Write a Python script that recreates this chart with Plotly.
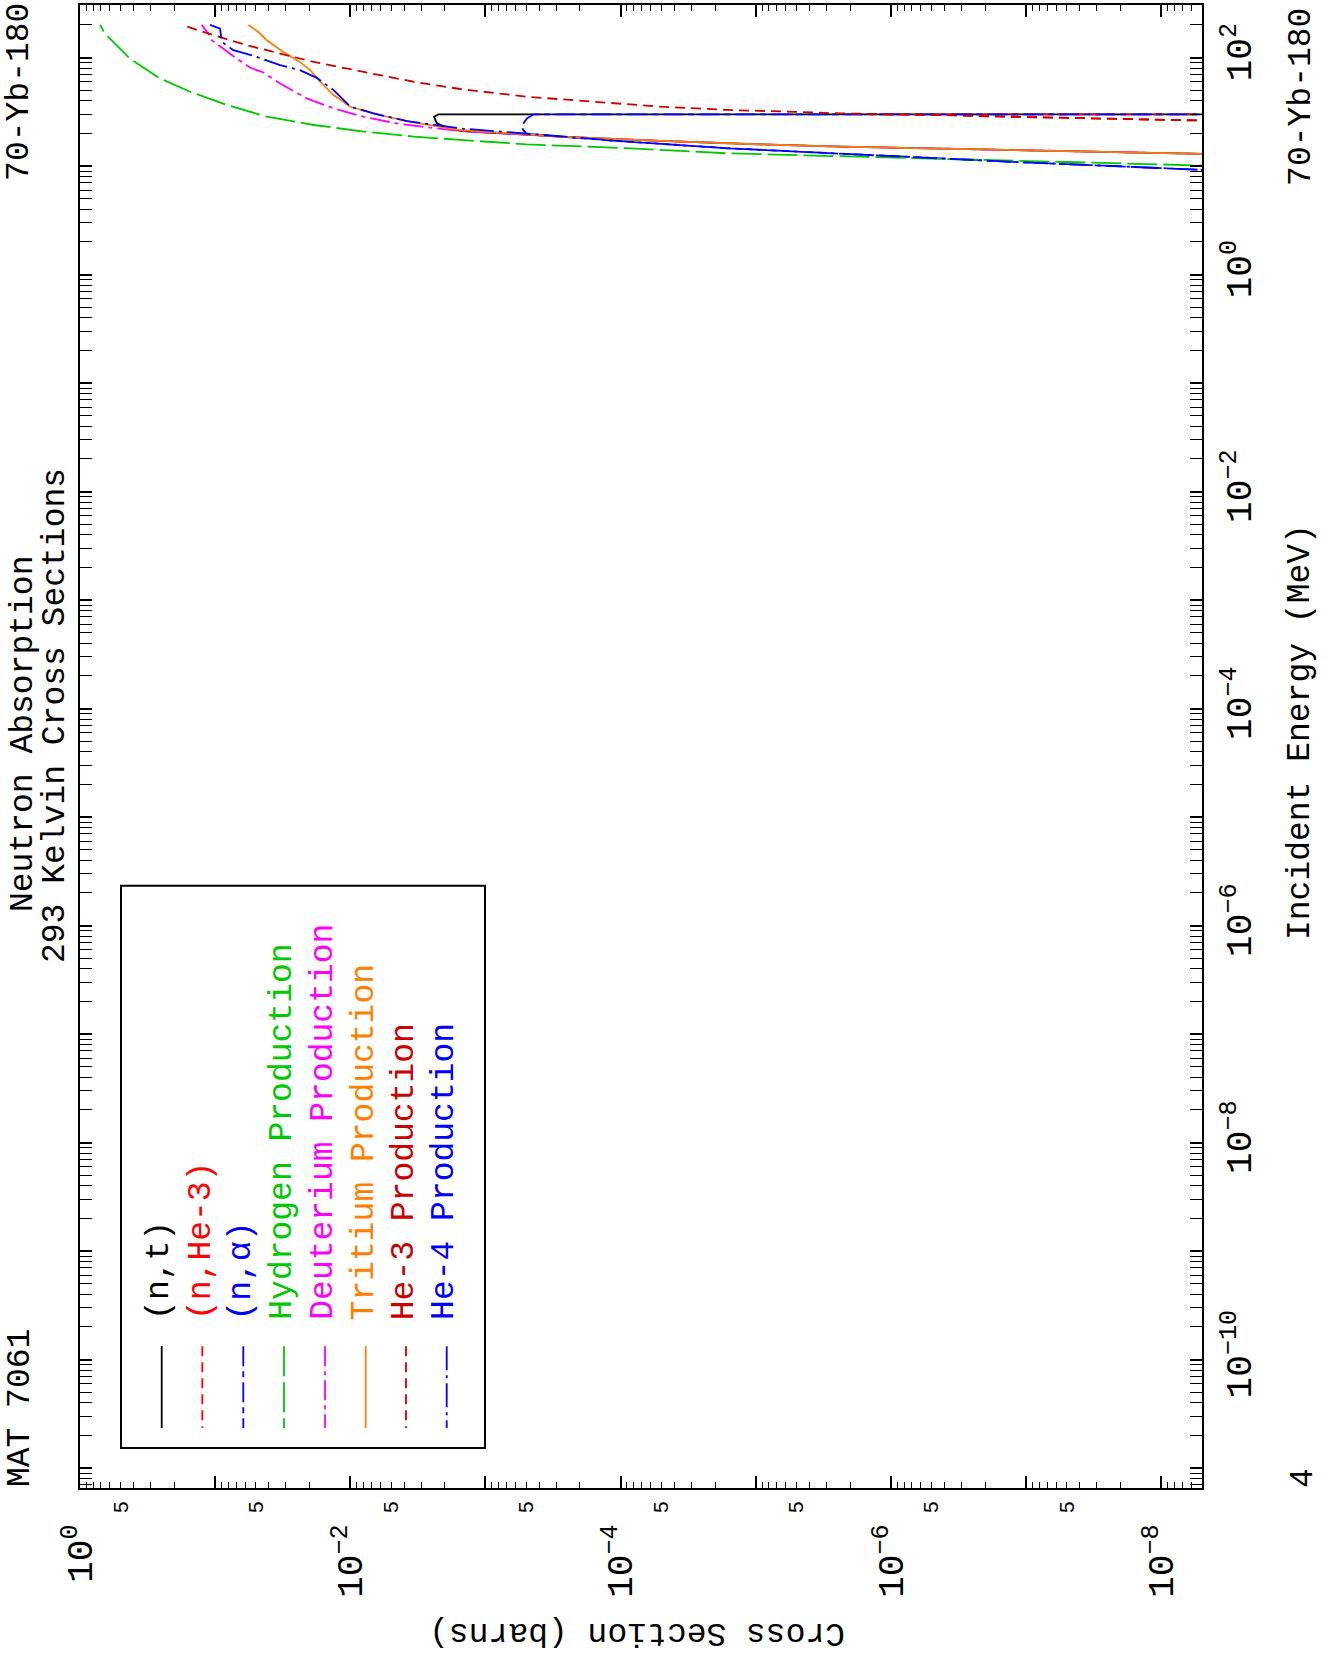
import math
import plotly.graph_objects as go

# ---------------- data: incident energy (MeV) and cross section (barns) ----------------
nt_E = [12.59, 12.94, 14.09, 15.10, 15.85, 17.06, 18.66, 21.04, 22.6, 24.7, 28.5, 30.0, 30.0]
nt_xs = [1.5e-9, 5.0e-9, 1.38e-7, 2.37e-6, 9.3e-6, 5.09e-5, 2.8e-4, 1.5e-3, 1.93e-3, 2.29e-3, 2.40e-3, 2.23e-3, 1e-12]

nhe3_E = [25.12, 26.18, 27.16, 28.51, 29.51, 30.0, 30.0]
nhe3_xs = [8.1e-10, 5.0e-9, 2.51e-8, 1.38e-7, 4.31e-7, 1.4e-6, 1e-12]

na_E = [8.91, 9.23, 10.99, 13.12, 14.59, 16.79, 19.77, 21.4, 23.1, 25.1, 27.5, 30.0, 30.0]
na_xs = [1.58e-9, 5.0e-9, 1.38e-7, 2.37e-6, 1.63e-5, 8.99e-5, 4.94e-4, 5.25e-4, 5.38e-4, 5.2e-4, 4.94e-4, 4.4e-4, 1e-12]

h_E = [9.77, 10.1, 11.17, 12.2, 13.1, 14.6, 15.85, 17.4, 18.7, 20.8, 23.9, 28.5, 36.5, 48.4, 64.1, 97.7, 166, 200]
h_xs = [1.7e-9, 5.0e-9, 1.38e-7, 2.37e-6, 1.63e-5, 8.98e-5, 4.94e-4, 1.54e-3, 3.41e-3, 8.0e-3, 1.87e-2, 4.15e-2, 8.2e-2, 0.153, 0.256, 0.427, 0.653, 0.711]

d_E = [12.59, 12.94, 14.09, 15.1, 15.85, 17.06, 18.66, 21.04, 22.6, 24.7, 28.5, 34.0, 42.0, 57.7, 72.8, 80.9, 97.7, 121, 144.5, 166, 200]
d_xs = [1.5e-9, 5.0e-9, 1.38e-7, 2.37e-6, 9.3e-6, 5.09e-5, 2.8e-4, 1.54e-3, 2.57e-3, 4.53e-3, 8.0e-3, 1.33e-2, 2.10e-2, 3.31e-2, 4.40e-2, 5.52e-2, 6.92e-2, 8.69e-2, 0.106, 0.112, 0.126]

t_E = [12.59, 12.94, 14.09, 15.1, 15.85, 17.06, 18.66, 21.5, 25.3, 29.5, 35.2, 45.1, 59.8, 76.6, 91.2, 112.7, 144.5, 172, 200]
t_xs = [1.5e-9, 5.0e-9, 1.38e-7, 2.37e-6, 9.3e-6, 5.09e-5, 2.8e-4, 1.54e-3, 3.41e-3, 6.03e-3, 1.0e-2, 1.33e-2, 1.67e-2, 1.98e-2, 2.36e-2, 3.13e-2, 4.15e-2, 4.79e-2, 5.68e-2]

he3_E = [25.12, 26.18, 27.16, 28.51, 29.51, 30.55, 31.62, 32.89, 35.24, 39.17, 43.55, 51.29, 59.84, 68.87, 79.25, 91.2, 108.9, 130.0, 160.7, 200]
he3_xs = [8.1e-10, 5.0e-9, 2.51e-8, 1.38e-7, 4.31e-7, 2.37e-6, 5.25e-6, 1.63e-5, 5.09e-5, 1.58e-4, 4.94e-4, 1.54e-3, 3.41e-3, 6.03e-3, 1.06e-2, 1.87e-2, 3.31e-2, 5.83e-2, 0.103, 0.177]

he4_E = [8.91, 9.23, 10.99, 13.12, 14.59, 16.79, 19.77, 22.23, 23.55, 26.0, 30.55, 35.24, 50.1, 65.0, 76.6, 85.1, 101.4, 117, 139.3, 160.7, 184.9, 200]
he4_xs = [1.58e-9, 5.0e-9, 1.38e-7, 2.37e-6, 1.63e-5, 8.99e-5, 4.94e-4, 1.54e-3, 2.16e-3, 3.82e-3, 6.75e-3, 1.0e-2, 1.33e-2, 1.77e-2, 2.36e-2, 3.31e-2, 4.92e-2, 7.33e-2, 8.93e-2, 9.1e-2, 9.2e-2, 0.109]

series_names = ["(n,t)", "(n,He-3)", "(n,α)", "Hydrogen Production", "Deuterium Production",
                "Tritium Production", "He-3 Production", "He-4 Production"]
series_E = [nt_E, nhe3_E, na_E, h_E, d_E, t_E, he3_E, he4_E]
series_xs = [nt_xs, nhe3_xs, na_xs, h_xs, d_xs, t_xs, he3_xs, he4_xs]

# axis ranges / ticks
xs_range_lo, xs_range_hi = 1.0, 5.0e-9          # cross section (left -> right)
E_range_lo, E_range_hi = 6.55e-12, 3.05e2        # energy (bottom -> top)
xs_labeled_exp = [0, -2, -4, -6, -8]
xs_unlabeled_exp = [-1, -3, -5, -7]
E_labeled_exp = [-10, -8, -6, -4, -2, 0, 2]
E_unlabeled_exp = [-11, -9, -7, -5, -3, -1, 1]

# ---------------- styles ----------------
colors = ["#000000", "#ff0000", "#0000ff", "#00c800", "#ff00ff", "#ff8000", "#c80000", "#0000ff"]
dashes = ["solid", "10px,6px", "20px,5px,6px,5px", "30px,6px", "20px,5px,4px,5px",
          "solid", "10px,6px", "24px,5px,3px,5px"]

W, H = 1339, 1663
X0, X1, Y0, Y1 = 80, 1202, 3, 1488   # plot frame in pixels


def px(x):
    return (x - X0) / (X1 - X0)


def py(y):
    return (Y1 - y) / (Y1 - Y0)


fig = go.Figure()
for name, E, xs, c, d in zip(series_names, series_E, series_xs, colors, dashes):
    fig.add_trace(go.Scatter(x=xs, y=E, mode="lines", name=name, showlegend=False,
                             line=dict(color=c, width=1.8, dash=d), hoverinfo="skip"))

# invisible helper traces so the overlay axes render
fig.add_trace(go.Scatter(x=[1e-3], y=[1.0], xaxis="x2", yaxis="y2", mode="markers",
                         marker=dict(opacity=0), showlegend=False, hoverinfo="skip"))
fig.add_trace(go.Scatter(x=[1e-3], y=[1.0], xaxis="x3", yaxis="y", mode="markers",
                         marker=dict(opacity=0), showlegend=False, hoverinfo="skip"))

MONO = "Liberation Mono"


def sup_label(k):
    s = str(k).replace("-", "−")
    return f"10<sup>{s}</sup>"


xs_rng = [math.log10(xs_range_lo), math.log10(xs_range_hi)]
E_rng = [math.log10(E_range_lo), math.log10(E_range_hi)]
xs_minor = [m * 10.0 ** k for k in range(-9, 0) for m in range(2, 10)]
E_minor = [m * 10.0 ** k for k in range(-12, 3) for m in range(2, 10)]
five_vals = [5 * 10.0 ** k for k in range(-1, -9, -1)]

common = dict(showgrid=False, zeroline=False)
tick_main = dict(showline=True, linecolor="black", linewidth=2, mirror="allticks",
                 ticks="inside", ticklen=12, tickwidth=1.5, tickcolor="black", tickmode="array")

fig.update_layout(
    width=W, height=H,
    margin=dict(l=X0, r=W - X1, t=Y0, b=H - Y1),
    paper_bgcolor="white", plot_bgcolor="white",
    showlegend=False,
    xaxis=dict(type="log", range=xs_rng, **tick_main, **common,
               tickvals=[10.0 ** k for k in xs_labeled_exp],
               ticktext=[sup_label(k) for k in xs_labeled_exp],
               tickangle=-90, tickfont=dict(family=MONO, size=36, color="black"),
               ticklabelstandoff=20,
               minor=dict(tickmode="array", tickvals=xs_minor, ticks="inside", ticklen=6,
                          tickwidth=1, tickcolor="black")),
    xaxis2=dict(type="log", range=xs_rng, overlaying="x", anchor="y", side="bottom",
                showline=False, ticks="", tickmode="array", tickvals=five_vals,
                ticktext=["5"] * len(five_vals), tickangle=-90,
                tickfont=dict(family="Liberation Sans", size=21, color="black"),
                ticklabelstandoff=8, **common),
    xaxis3=dict(type="log", range=xs_rng, overlaying="x", anchor="y", side="bottom",
                **tick_main, **common, tickvals=[10.0 ** k for k in xs_unlabeled_exp],
                showticklabels=False),
    yaxis=dict(type="log", range=E_rng, side="right", **tick_main, **common,
               tickvals=[10.0 ** k for k in E_labeled_exp],
               ticktext=[sup_label(k) for k in E_labeled_exp],
               tickangle=-90, tickfont=dict(family=MONO, size=36, color="black"),
               ticklabelstandoff=4,
               minor=dict(tickmode="array", tickvals=E_minor, ticks="inside", ticklen=6,
                          tickwidth=1, tickcolor="black")),
    yaxis2=dict(type="log", range=E_rng, overlaying="y", anchor="x", side="right",
                **tick_main, **common, tickvals=[10.0 ** k for k in E_unlabeled_exp],
                showticklabels=False),
)

FS = 33
ann = []


def text(t, x, y, angle=-90, size=FS, color="black", xa="center", ya="middle"):
    ann.append(dict(text=t, x=px(x), y=py(y), xref="paper", yref="paper", showarrow=False,
                    textangle=angle, xanchor=xa, yanchor=ya,
                    font=dict(family=MONO, size=size, color=color)))


text("Neutron Absorption", 23, 733)
text("293 Kelvin Cross Sections", 55, 715)
text("MAT 7061", 20, 1408)
text("70-Yb-180", 20, 90)
text("70-Yb-180", 1302, 95)
text("Incident Energy (MeV)", 1300, 731)
text("Cross Section (barns)", 637, 1632, angle=180)
text("4", 1303, 1478)

# manual rotated legend
shapes = [dict(type="rect", xref="paper", yref="paper", x0=px(121), x1=px(485), y0=py(885), y1=py(1448),
               line=dict(color="black", width=2), fillcolor="rgba(0,0,0,0)")]
leg_x = [161.7, 202.3, 243.3, 284, 325, 365.7, 406, 446.7]
for lx, name, c, d in zip(leg_x, series_names, colors, dashes):
    shapes.append(dict(type="line", xref="paper", yref="paper", x0=px(lx), x1=px(lx),
                       y0=py(1346), y1=py(1428), line=dict(color=c, width=1.8, dash=d)))
    text(name, lx - 1.5, 1322, color=c, ya="bottom")

fig.update_layout(annotations=ann, shapes=shapes)
fig.write_html("out.html", config={"displayModeBar": False},
               post_script="document.body.style.margin='0px';")
